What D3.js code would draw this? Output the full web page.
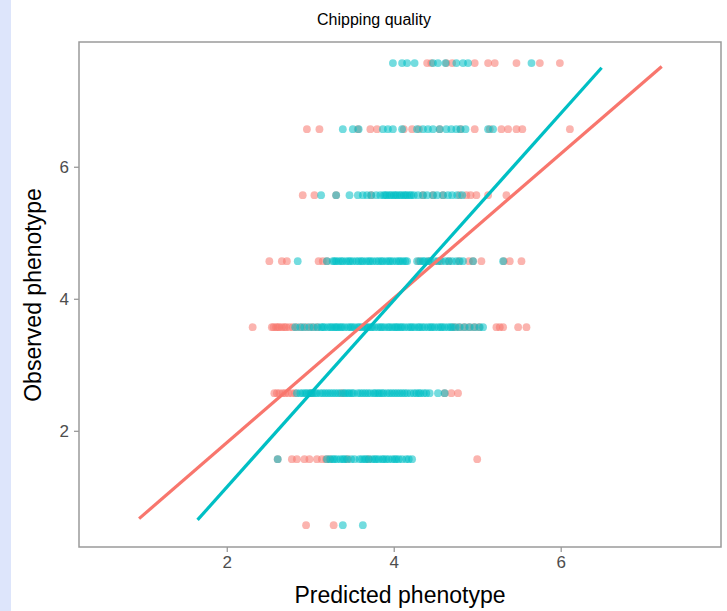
<!DOCTYPE html>
<meta charset="utf-8">
<script src="https://d3js.org/d3.v7.min.js"></script>
<div id="chart"></div>
<style>
	body {
		margin: 0;
		padding: 0;
		background: #fff;
		overflow: hidden;
	}
	text {
		font-family: "Liberation Sans", Arial, sans-serif;
	}
</style>
<script>
	// observed phenotype levels (y), one row of points per level
	const obsLevels = [0.57, 1.57, 2.57, 3.57, 4.57, 5.57, 6.57, 7.57];

	// predicted phenotype (x) for each observed level, red group
	const redPred = [
		[2.95, 3.28],
		[2.61, 2.78, 2.84, 2.93, 2.99, 3.08, 3.14, 3.19, 3.23, 3.45, 3.70, 5.00],
		[2.57, 2.60, 2.63, 2.67, 2.70, 2.74, 2.78, 2.82, 3.01, 3.38, 4.61, 4.69, 4.77],
		[2.31, 2.54, 2.56, 2.59, 2.61, 2.63, 2.66, 2.69, 2.71, 2.75, 2.79, 2.84, 2.90, 2.96, 3.02, 3.08, 4.72, 4.78, 4.84, 4.90, 4.96, 5.02, 5.23, 5.27, 5.31, 5.49, 5.59],
		[2.51, 2.66, 2.72, 3.10, 3.15, 3.20, 4.30, 4.42, 4.55, 4.66, 4.78, 4.90, 4.95, 5.05, 5.32, 5.39, 5.53],
		[2.91, 3.05, 3.31, 3.73, 4.35, 4.47, 4.59, 4.79, 4.87, 4.92, 4.99, 5.13, 5.35],
		[2.96, 3.11, 3.57, 3.72, 3.80, 4.12, 4.22, 4.30, 4.55, 4.80, 4.97, 5.15, 5.29, 5.37, 5.47, 5.54, 6.11],
		[4.40, 4.45, 4.63, 4.70, 4.97, 5.13, 5.21, 5.47, 5.75, 5.99]
	];

	// predicted phenotype (x) for each observed level, teal group
	const tealPred = [
		[3.39, 3.63],
		[2.61, 3.20, 3.24, 3.27, 3.29, 3.32, 3.36, 3.39, 3.41, 3.44, 3.49, 3.53, 3.59, 3.62, 3.65, 3.67, 3.70, 3.74, 3.77, 3.79, 3.82, 3.86, 3.88, 3.91, 3.94, 3.98, 4.01, 4.03, 4.06, 4.10, 4.15, 4.18, 4.22],
		[2.84, 2.88, 2.91, 2.94, 2.96, 2.99, 3.01, 3.03, 3.06, 3.08, 3.12, 3.15, 3.18, 3.21, 3.24, 3.27, 3.30, 3.33, 3.36, 3.40, 3.42, 3.45, 3.47, 3.50, 3.52, 3.57, 3.60, 3.63, 3.66, 3.69, 3.72, 3.76, 3.78, 3.81, 3.83, 3.86, 3.88, 3.92, 3.95, 3.98, 4.01, 4.04, 4.07, 4.10, 4.13, 4.16, 4.20, 4.24, 4.27, 4.30, 4.32, 4.36, 4.39, 4.43, 4.53, 4.61],
		[2.82, 2.88, 2.93, 2.99, 3.04, 3.09, 3.13, 3.15, 3.17, 3.21, 3.24, 3.26, 3.29, 3.31, 3.33, 3.36, 3.38, 3.41, 3.45, 3.48, 3.50, 3.53, 3.57, 3.59, 3.62, 3.65, 3.67, 3.69, 3.72, 3.74, 3.77, 3.81, 3.84, 3.86, 3.89, 3.93, 3.95, 3.98, 4.01, 4.03, 4.05, 4.08, 4.10, 4.13, 4.17, 4.20, 4.22, 4.25, 4.29, 4.31, 4.34, 4.37, 4.41, 4.44, 4.46, 4.49, 4.53, 4.56, 4.58, 4.61, 4.65, 4.68, 4.70, 4.74, 4.79, 4.85, 4.91, 4.97, 5.03, 5.07],
		[2.85, 3.20, 3.27, 3.29, 3.31, 3.34, 3.37, 3.39, 3.43, 3.46, 3.48, 3.51, 3.55, 3.58, 3.61, 3.63, 3.67, 3.70, 3.72, 3.75, 3.79, 3.82, 3.85, 3.87, 3.91, 3.94, 3.96, 3.99, 4.03, 4.06, 4.08, 4.11, 4.14, 4.16, 4.28, 4.32, 4.35, 4.37, 4.41, 4.44, 4.49, 4.53, 4.57, 4.62, 4.66, 4.70, 4.75, 4.79, 4.83, 4.95, 5.31],
		[3.13, 3.31, 3.47, 3.57, 3.63, 3.68, 3.73, 3.79, 3.84, 3.88, 3.90, 3.92, 3.95, 3.97, 4.00, 4.02, 4.04, 4.07, 4.09, 4.12, 4.14, 4.16, 4.19, 4.21, 4.24, 4.29, 4.35, 4.40, 4.47, 4.52, 4.59, 4.65, 4.70, 4.76, 4.82],
		[3.39, 3.51, 3.58, 3.87, 3.93, 3.99, 4.10, 4.28, 4.35, 4.41, 4.47, 4.55, 4.63, 4.69, 4.75, 4.80, 4.86, 5.13, 5.19],
		[3.99, 4.10, 4.16, 4.25, 4.47, 4.53, 4.62, 4.75, 4.83, 4.89, 5.65]
	];

	// fitted regression lines, start and end points in data units
	const redLineX = [0.95, 7.21];
	const redLineY = [0.67, 7.52];
	const tealLineX = [1.65, 6.49];
	const tealLineY = [0.65, 7.50];

	const xTicks = [2, 4, 6];
	const yTicks = [2, 4, 6];

	const RED = "#F8766D";
	const TEAL = "#00BFC4";

	const WIDTH = 727;
	const HEIGHT = 611;
	const margin = { left: 79, right: 6, top: 42, bottom: 64 };

	const svg = d3.select("#chart")
		.append("svg")
		.attr("width", WIDTH)
		.attr("height", HEIGHT);

	// light blue strip on the left edge of the screenshot
	svg.append("rect")
		.attr("x", 0).attr("y", 0)
		.attr("width", 11).attr("height", HEIGHT)
		.attr("fill", "#dde5fb");

	const x = d3.scaleLinear()
		.domain([0.23, 7.92])
		.range([margin.left, WIDTH - margin.right]);

	const y = d3.scaleLinear()
		.domain([0.24, 7.89])
		.range([HEIGHT - margin.bottom, margin.top]);

	const toPoints = (rows) => rows.flatMap((row, i) => row.map(v => ({ x: v, y: obsLevels[i] })));

	const groups = [
		{ color: RED, points: toPoints(redPred), lx: redLineX, ly: redLineY },
		{ color: TEAL, points: toPoints(tealPred), lx: tealLineX, ly: tealLineY }
	];

	const plot = svg.append("g");

	for (const g of groups) {
		plot.append("g")
			.selectAll("circle")
			.data(g.points)
			.join("circle")
			.attr("cx", d => x(d.x))
			.attr("cy", d => y(d.y))
			.attr("r", 3.9)
			.attr("fill", g.color)
			.attr("fill-opacity", 0.55);
	}

	for (const g of groups) {
		plot.append("line")
			.attr("x1", x(g.lx[0])).attr("y1", y(g.ly[0]))
			.attr("x2", x(g.lx[1])).attr("y2", y(g.ly[1]))
			.attr("stroke", g.color)
			.attr("stroke-width", 3.2);
	}

	// panel border
	svg.append("rect")
		.attr("x", x.range()[0]).attr("y", y.range()[1])
		.attr("width", x.range()[1] - x.range()[0])
		.attr("height", y.range()[0] - y.range()[1])
		.attr("fill", "none")
		.attr("stroke", "#9a9a9a")
		.attr("stroke-width", 1.5);

	const xAxis = svg.append("g")
		.attr("transform", `translate(0,${y.range()[0]})`)
		.call(d3.axisBottom(x).tickValues(xTicks).tickSize(5).tickPadding(4));

	const yAxis = svg.append("g")
		.attr("transform", `translate(${x.range()[0]},0)`)
		.call(d3.axisLeft(y).tickValues(yTicks).tickSize(5).tickPadding(5));

	for (const ax of [xAxis, yAxis]) {
		ax.select(".domain").remove();
		ax.selectAll(".tick line").attr("stroke", "#9a9a9a").attr("stroke-width", 1.3);
		ax.selectAll(".tick text")
			.attr("fill", "#4d4d4d")
			.style("font-size", "17px")
			.style("font-family", "'Liberation Sans', Arial, sans-serif");
	}

	svg.append("text")
		.attr("x", 374).attr("y", 25)
		.attr("text-anchor", "middle")
		.style("font-size", "16px")
		.text("Chipping quality");

	svg.append("text")
		.attr("x", 400).attr("y", 603)
		.attr("text-anchor", "middle")
		.style("font-size", "23px")
		.text("Predicted phenotype");

	svg.append("text")
		.attr("transform", "translate(41,295) rotate(-90)")
		.attr("text-anchor", "middle")
		.style("font-size", "23px")
		.text("Observed phenotype");
</script>
